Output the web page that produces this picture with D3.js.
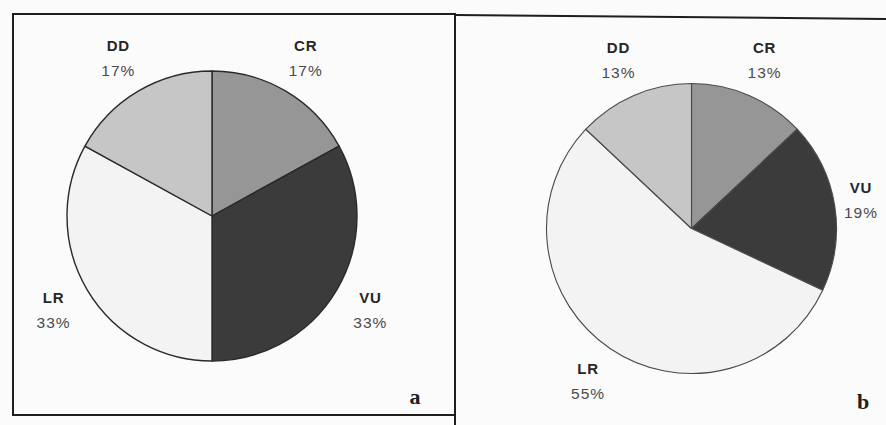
<!DOCTYPE html>
<html>
<head>
<meta charset="utf-8">
<script src="https://cdn.jsdelivr.net/npm/d3@7/dist/d3.min.js"></script>
<style>
  html, body { margin: 0; padding: 0; background: #fbfbfb; }
  svg { display: block; }
</style>
</head>
<body>
<svg id="chart" width="886" height="425"></svg>
<script>
// ---- data ----
const categories = ["CR", "VU", "LR", "DD"];
const valuesA = [17, 33, 33, 17];
const valuesB = [13, 19, 55, 13];
const panelLetters = ["a", "b"];
const fillColors = ["#969696", "#3b3b3b", "#f3f3f3", "#c6c6c6"];

const svg = d3.select("#chart");
const W = 886, H = 425;

svg.append("rect").attr("width", W).attr("height", H).attr("fill", "#fbfbfb");

const color = d3.scaleOrdinal().domain(categories).range(fillColors);

// frames
const frame = svg.append("g").attr("fill", "none").attr("stroke", "#1e1e1e");
frame.append("rect").attr("x", 13).attr("y", 14).attr("width", 442).attr("height", 401).attr("stroke-width", 2);
frame.append("line").attr("x1", 455).attr("y1", 15).attr("x2", 886).attr("y2", 19).attr("stroke-width", 2);
frame.append("line").attr("x1", 455).attr("y1", 14).attr("x2", 455).attr("y2", 425).attr("stroke-width", 2);

const pie = d3.pie().sort(null).value(d => d.value).startAngle(0).endAngle(2 * Math.PI);

const panels = [
  { values: valuesA, cx: 212, cy: 216, r: 145, stroke: "#2a2a2a", sw: 1.4, letterX: 415, letterY: 404, maxX: 440 },
  { values: valuesB, cx: 691.5, cy: 228.5, r: 145, stroke: "#4a4a4a", sw: 1.1, letterX: 863, letterY: 409, maxX: 861 }
];

panels.forEach((p, i) => {
  const data = categories.map((c, k) => ({ cat: c, value: p.values[k] }));
  const arcs = pie(data);
  const arc = d3.arc().innerRadius(0).outerRadius(p.r);
  const labelArc = d3.arc().innerRadius(184).outerRadius(184);

  const g = svg.append("g").attr("transform", `translate(${p.cx},${p.cy})`);
  g.selectAll("path.slice")
    .data(arcs)
    .join("path")
    .attr("class", "slice")
    .attr("d", arc)
    .attr("fill", d => color(d.data.cat))
    .attr("stroke", p.stroke)
    .attr("stroke-width", p.sw)
    .attr("stroke-linejoin", "round");

  const lab = g.selectAll("g.lab")
    .data(arcs)
    .join("g")
    .attr("class", "lab")
    .attr("transform", d => {
      const c = labelArc.centroid(d);
      const x = Math.min(c[0], p.maxX - p.cx);
      return `translate(${x},${c[1]})`;
    });

  lab.append("text")
    .attr("text-anchor", "middle")
    .attr("y", -7)
    .attr("font-family", "Liberation Sans, Arial, sans-serif")
    .attr("font-weight", "bold")
    .attr("font-size", 15)
    .attr("letter-spacing", 0.8)
    .attr("fill", "#262626")
    .text(d => d.data.cat);

  lab.append("text")
    .attr("text-anchor", "middle")
    .attr("y", 18)
    .attr("font-family", "Liberation Sans, Arial, sans-serif")
    .attr("font-size", 15.5)
    .attr("letter-spacing", 1)
    .attr("fill", "#4a4a4a")
    .text(d => d.data.value + "%");

  svg.append("text")
    .attr("x", p.letterX)
    .attr("y", p.letterY)
    .attr("text-anchor", "middle")
    .attr("font-family", "Liberation Serif, Times New Roman, serif")
    .attr("font-weight", "bold")
    .attr("font-size", 22)
    .attr("fill", "#1e1e1e")
    .text(panelLetters[i]);
});
</script>
</body>
</html>
